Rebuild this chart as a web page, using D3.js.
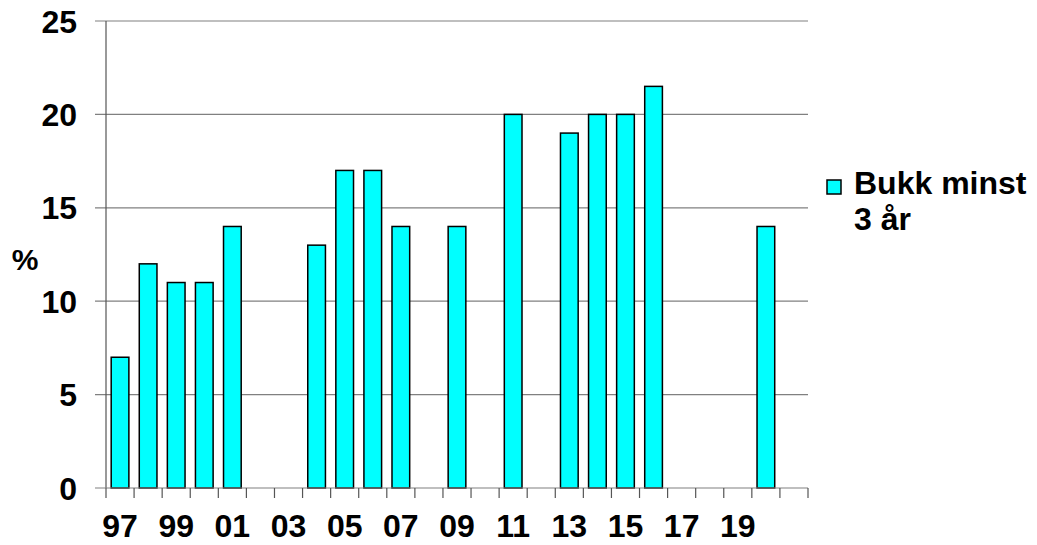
<!DOCTYPE html>
<html>
<head>
<meta charset="utf-8">
<script src="https://cdn.jsdelivr.net/npm/d3@7"></script>
<style>
  body { margin: 0; background: #fff; }
  text { font-family: Arial, "Liberation Sans", sans-serif; font-weight: bold; fill: #000; }
</style>
</head>
<body>
<svg id="chart" width="1037" height="545"></svg>
<script>
// Categories (year labels), one per season 1997-2021
const years = ["97","98","99","00","01","02","03","04","05","06","07","08","09","10",
               "11","12","13","14","15","16","17","18","19","20","21"];
// Only every other year gets a printed label
const yearLabels = ["97","","99","","01","","03","","05","","07","","09","",
                    "11","","13","","15","","17","","19","",""];
// Share of bucks at least 3 years old (%); null = no data
const bukkMinst3 = [7, 12, 11, 11, 14, null, null, 13, 17, 17, 14, null, 14, null,
                    20, null, 19, 20, 20, 21.5, null, null, null, 14, null];
const yTicks = [0, 5, 10, 15, 20, 25];

const svg = d3.select("#chart");
const margin = {top: 21, right: 229, bottom: 57, left: 106};
const width = 1037 - margin.left - margin.right;
const height = 545 - margin.top - margin.bottom;

const g = svg.append("g").attr("transform", `translate(${margin.left},${margin.top})`);

const x = d3.scaleBand().domain(years).range([0, width]).paddingInner(0.37).paddingOuter(0.185);
const xStep = d3.scaleBand().domain(years).range([0, width]);
const y = d3.scaleLinear().domain([0, 25]).range([height, 0]);

// Gridlines + y ticks
g.selectAll("line.grid")
 .data(yTicks.filter(d => d > 0))
 .enter().append("line")
 .attr("x1", -11).attr("x2", width)
 .attr("y1", d => y(d)).attr("y2", d => y(d))
 .attr("stroke", "#808080").attr("stroke-width", 1.2);

// Bars
g.selectAll("rect.bar")
 .data(years.map((yr, i) => ({yr, v: bukkMinst3[i]})).filter(d => d.v != null))
 .enter().append("rect")
 .attr("x", d => x(d.yr))
 .attr("y", d => y(d.v))
 .attr("width", x.bandwidth())
 .attr("height", d => y(0) - y(d.v))
 .attr("fill", "#00ffff")
 .attr("stroke", "#000")
 .attr("stroke-width", 1.5);

// Y axis line and labels
g.append("line")
 .attr("x1", 0).attr("x2", 0).attr("y1", 0).attr("y2", height)
 .attr("stroke", "#555").attr("stroke-width", 1.2);

g.selectAll("text.ylab")
 .data(yTicks)
 .enter().append("text")
 .attr("x", -29).attr("y", d => y(d))
 .attr("dy", "0.36em")
 .attr("text-anchor", "end")
 .style("font-size", "32px")
 .text(d => d);

// X axis line, ticks at category boundaries
g.append("line")
 .attr("x1", -11).attr("x2", width).attr("y1", height).attr("y2", height)
 .attr("stroke", "#808080").attr("stroke-width", 1.2);

g.selectAll("line.xtick")
 .data(years.concat(["end"]))
 .enter().append("line")
 .attr("x1", (d, i) => i * xStep.step()).attr("x2", (d, i) => i * xStep.step())
 .attr("y1", height).attr("y2", height + 10)
 .attr("stroke", "#555").attr("stroke-width", 1.2);

g.selectAll("text.xlab")
 .data(years)
 .enter().append("text")
 .attr("x", d => xStep(d) + xStep.bandwidth() / 2)
 .attr("y", height + 49)
 .attr("text-anchor", "middle")
 .style("font-size", "32px")
 .text((d, i) => yearLabels[i]);

// Y axis title
svg.append("text")
 .attr("x", 25).attr("y", 270)
 .attr("text-anchor", "middle")
 .style("font-size", "30px")
 .text("%");

// Legend
const legend = svg.append("g").attr("transform", "translate(827,180)");
legend.append("rect")
 .attr("width", 14).attr("height", 14)
 .attr("fill", "#00ffff").attr("stroke", "#000").attr("stroke-width", 1.5);
legend.append("text")
 .attr("x", 27).attr("y", 14)
 .style("font-size", "32px")
 .text("Bukk minst");
legend.append("text")
 .attr("x", 27).attr("y", 50)
 .style("font-size", "32px")
 .text("3 år");
</script>
</body>
</html>
